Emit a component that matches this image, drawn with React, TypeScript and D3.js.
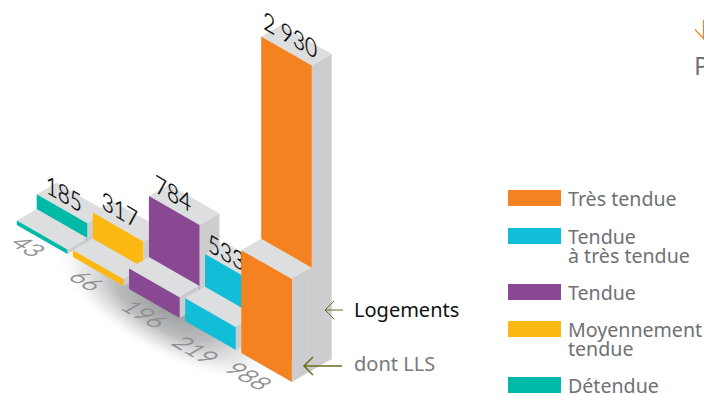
import React from "react";
import * as d3 from "d3";

// Housing units per market-tension band, from the least to the most tense
const bands = ["Détendue", "Moyennement tendue", "Tendue", "Tendue à très tendue", "Très tendue"];
const logements = [185, 317, 784, 533, 2930];
const dontLLS = [43, 66, 196, 219, 988];
const bandColors = ["#00B9A7", "#FDB813", "#884892", "#12BDD8", "#F58220"];

// Legend runs from the top of the page downwards
const legendRows = [
  { color: "#F58220", lines: ["Très tendue"] },
  { color: "#12BDD8", lines: ["Tendue", "à très tendue"] },
  { color: "#884892", lines: ["Tendue"] },
  { color: "#FDB813", lines: ["Moyennement", "tendue"] },
  { color: "#00B9A7", lines: ["Détendue"] },
];

const TOP = "#DCDEE0";
const SIDE = "#CBCDCF";
const OLIVE = "#6B6A1E";
const GREY_TEXT = "#6F7173";
const UI_FONT = "'Noto Sans', sans-serif";
const NUM_FONT = "Lato, 'Open Sans', sans-serif";

// Isometric frame: the width edge falls to the right, the depth edge climbs to the right
const WIDTH_VEC: [number, number] = [50.6, 29];
const DEPTH_VEC: [number, number] = [19.9, -11.5];

// Hand placement of the slanted figures around each block
const allNudgeX = [9, 9, 6, 3, 2];
const allNudgeY = [-2, -4, -4, -3, -8];
const llsNudgeX = [-8, -6, -10, -15, -18];
const llsNudgeY = [19, 21, 19, 23, 17];

const height = d3.scaleLinear().domain([0, 2930]).range([0, 305]);
const originX = d3.scaleLinear().domain([0, 4]).range([16.8, 241.3]);
const originY = d3.scaleLinear().domain([0, 4]).range([225, 353]);
const path = d3.line<[number, number]>().curve(d3.curveLinearClosed);

const add = (p: [number, number], v: [number, number], k = 1): [number, number] => [p[0] + v[0] * k, p[1] + v[1] * k];

function Block({ base, h, color }: { base: [number, number]; h: number; color: string }) {
  const top: [number, number] = [base[0], base[1] - h];
  const a = add(top, WIDTH_VEC);
  const b = add(base, WIDTH_VEC);
  return (
    <g>
      <path d={path([a, b, add(b, DEPTH_VEC), add(a, DEPTH_VEC)]) ?? ""} fill={SIDE} />
      <path d={path([top, a, add(a, DEPTH_VEC), add(top, DEPTH_VEC)]) ?? ""} fill={TOP} />
      <path d={path([top, a, b, base]) ?? ""} fill={color} />
    </g>
  );
}

function Arrow({ tip, tail, barb, stroke }: { tip: [number, number]; tail: number; barb: number; stroke: number }) {
  const [x, y] = tip;
  return (
    <path
      d={`M${tail},${y}L${x},${y}M${x + barb},${y - barb}L${x},${y}L${x + barb},${y + barb}`}
      fill="none"
      stroke={OLIVE}
      strokeWidth={stroke}
    />
  );
}

export default function App() {
  const groups = bands.map((band, i) => {
    const front: [number, number] = [originX(i), originY(i)];
    const back = add(front, DEPTH_VEC);
    return { band, i, front, back, color: bandColors[i], all: logements[i], lls: dontLLS[i] };
  });

  return (
    <svg
      width={704}
      height={394}
      viewBox="0 0 704 394"
      style={{ position: "fixed", left: 0, top: 0, display: "block", background: "#fff" }}
    >
      <defs>
        <radialGradient id="floorShadow">
          <stop offset="0%" stopColor="#9a9b9d" stopOpacity={1} />
          <stop offset="45%" stopColor="#b4b5b7" stopOpacity={0.9} />
          <stop offset="75%" stopColor="#dcdcdd" stopOpacity={0.6} />
          <stop offset="100%" stopColor="#ffffff" stopOpacity={0} />
        </radialGradient>
      </defs>

      {/* soft shadow cast on the floor beneath the row of blocks */}
      <ellipse
        cx={0}
        cy={0}
        rx={125}
        ry={46}
        fill="url(#floorShadow)"
        transform="translate(165,308) rotate(30)"
      />

      {groups.map(({ band, i, front, back, color, all, lls }) => {
        const baseTop = [back[0], back[1] - height(all)];
        return (
          <g key={band}>
            <Block base={back} h={height(all)} color={color} />
            <text
              transform={`translate(${baseTop[0] + allNudgeX[i]},${baseTop[1] + allNudgeY[i]}) skewY(30) scale(0.83,1)`}
              fontFamily={NUM_FONT}
              fontWeight={300}
              fontSize={25}
              fill="#000"
              stroke="#000"
              strokeWidth={0.35}
            >
              {d3.format(",")(all).replace(",", " ")}
            </text>
            {i === 4 && (
              <line
                x1={front[0] + WIDTH_VEC[0] + DEPTH_VEC[0]}
                x2={front[0] + WIDTH_VEC[0] + DEPTH_VEC[0]}
                y1={front[1] + WIDTH_VEC[1] + DEPTH_VEC[1] - height(lls)}
                y2={front[1] + WIDTH_VEC[1] + DEPTH_VEC[1]}
                stroke="#E3CDB8"
                strokeWidth={0.7}
              />
            )}
            <Block base={front} h={height(lls)} color={color} />
            <text
              transform={`matrix(0.866,0.5,-0.866,0.5,${front[0] + llsNudgeX[i]},${front[1] + llsNudgeY[i]})`}
              fontFamily={NUM_FONT}
              fontWeight={300}
              fontSize={24}
              fill="#8A8C8E"
              stroke="#8A8C8E"
              strokeWidth={0.55}
            >
              {lls}
            </text>
          </g>
        );
      })}

      <Arrow tip={[325, 310]} tail={343} barb={9} stroke={1} />
      <Arrow tip={[304, 366]} tail={342} barb={9} stroke={1.5} />
      <text x={354} y={317} fontFamily={UI_FONT} fontSize={20} fill="#111">Logements</text>
      <text x={354} y={371} fontFamily={UI_FONT} fontSize={20} fill="#77797B">dont LLS</text>

      {/* legend */}
      {legendRows.map((row, i) => {
        const swatchY = [190, 228, 284, 321, 377][i];
        return (
          <g key={i}>
            <rect x={508} y={swatchY} width={53} height={16} fill={row.color} />
            {row.lines.map((line, j) => (
              <text
                key={line}
                x={568}
                y={swatchY + 16 + j * 18.5}
                fontFamily={UI_FONT}
                fontSize={19.6}
                fill={GREY_TEXT}
              >
                {line}
              </text>
            ))}
          </g>
        );
      })}

      {/* start of the next panel, running past the page edge */}
      <path d="M703.5,20V38.5L695,29.5" fill="none" stroke="#F58220" strokeWidth={1.2} />
      <text x={694} y={75} fontFamily={UI_FONT} fontSize={25} fill={GREY_TEXT}>P</text>
    </svg>
  );
}
